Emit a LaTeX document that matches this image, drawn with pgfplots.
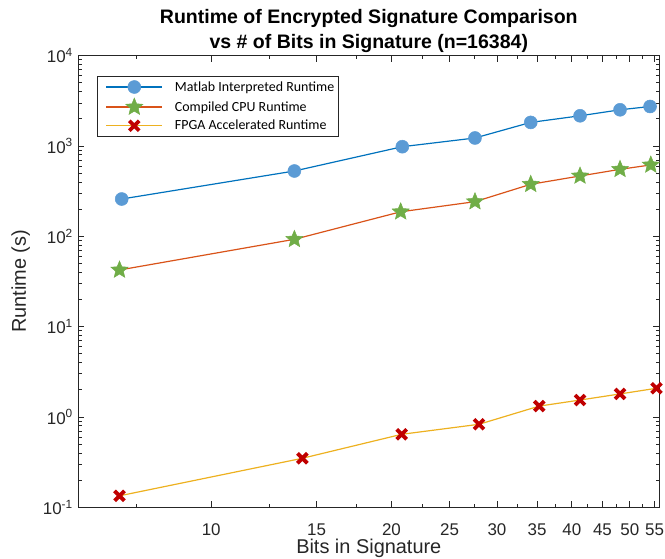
\documentclass[border=0pt]{standalone}
\usepackage{pgfplots}
\pgfplotsset{compat=1.18}
\usepackage{fontspec}
\setmainfont{Liberation Sans}
\newfontfamily\legfont{Carlito}
\definecolor{mblue}{rgb}{0,0.447,0.741}
\definecolor{mfill}{RGB}{91,155,213}
\definecolor{morange}{rgb}{0.85,0.325,0.098}
\definecolor{mgreen}{RGB}{112,173,71}
\definecolor{myellow}{rgb}{0.929,0.694,0.125}
\definecolor{mred}{RGB}{192,0,0}
\definecolor{axgray}{rgb}{0.15,0.15,0.15}
\pgfdeclareplotmark{fstar}{%
 \pgfpathmoveto{\pgfpointpolar{90}{\pgfplotmarksize}}%
 \pgfpathlineto{\pgfpointpolar{126}{0.45\pgfplotmarksize}}%
 \pgfpathlineto{\pgfpointpolar{162}{\pgfplotmarksize}}%
 \pgfpathlineto{\pgfpointpolar{198}{0.45\pgfplotmarksize}}%
 \pgfpathlineto{\pgfpointpolar{234}{\pgfplotmarksize}}%
 \pgfpathlineto{\pgfpointpolar{270}{0.45\pgfplotmarksize}}%
 \pgfpathlineto{\pgfpointpolar{306}{\pgfplotmarksize}}%
 \pgfpathlineto{\pgfpointpolar{342}{0.45\pgfplotmarksize}}%
 \pgfpathlineto{\pgfpointpolar{18}{\pgfplotmarksize}}%
 \pgfpathlineto{\pgfpointpolar{54}{0.45\pgfplotmarksize}}%
 \pgfpathclose
 \pgfusepathqfillstroke}
\begin{document}
\begin{tikzpicture}
\begin{axis}[
 at={(0,0)}, anchor=south west,
 scale only axis, width=581bp, height=451.6bp,
 xmode=log, ymode=log,
 xmin=6, xmax=56, ymin=0.1, ymax=10000,
 xtick={10,15,20,25,30,35,40,45,50,55},
 xticklabels={10,15,20,25,30,35,40,45,50,55},
 minor xtick={7.5,12.5,17.5,22.5,27.5,32.5,37.5,42.5,47.5,52.5},
 ytick={0.1,1,10,100,1000,10000},
 yticklabels={10\textsuperscript{-1},10\textsuperscript{0},10\textsuperscript{1},10\textsuperscript{2},10\textsuperscript{3},10\textsuperscript{4}},
 minor ytick={0.2,0.3,0.4,0.5,0.6,0.7,0.8,0.9,2,3,4,5,6,7,8,9,20,30,40,50,60,70,80,90,200,300,400,500,600,700,800,900,2000,3000,4000,5000,6000,7000,8000,9000},
 tick align=inside,
 major tick length=6bp, minor tick length=3.5bp,
 axis line style={axgray, line width=1bp},
 every tick/.style={axgray, line width=0.8bp},
 tick label style={font=\fontsize{17}{17}\selectfont, text=axgray},
 xticklabel style={yshift=-13bp},
 yticklabel style={xshift=-2bp},
 title={Runtime of Encrypted Signature Comparison\\vs \# of Bits in Signature (n=16384)},
 title style={font=\bfseries\fontsize{19.6}{25}\selectfont, align=center, text=black, yshift=-6bp},
 xlabel={Bits in Signature}, ylabel={Runtime (s)},
 label style={font=\fontsize{20}{20}\selectfont, text=axgray},
 xlabel style={at={(axis description cs:0.5,0)}, anchor=base, yshift=-46.5bp},
 ylabel shift=6bp,
 legend style={at={(axis description cs:0.0327,0.955)}, anchor=north west, draw=axgray, line width=0.8bp, font=\legfont\fontsize{14}{16}\selectfont, cells={anchor=west}, row sep=3.5bp, inner xsep=2bp, inner ysep=3bp},
 legend image code/.code={\path (-6bp,0bp) (66bp,0bp); \draw[mark repeat=2,mark phase=2,#1] plot coordinates {(0bp,0bp) (28bp,0bp) (56bp,0bp)};},
]
\addplot[mblue, line width=1.2bp, mark=*, mark size=6.5bp, mark options={fill=mfill, draw=mfill, line width=0.5bp}] coordinates {
(7.09,259) (13.77,529) (20.85,983) (27.57,1227) (34.16,1826) (41.29,2161) (48.15,2518) (54.04,2739)};
\addlegendentry{Matlab Interpreted Runtime}
\addplot[morange, line width=1.2bp, mark=fstar, mark size=9bp, mark options={fill=mgreen, draw=mgreen, line width=0.5bp}] coordinates {
(7.03,42.4) (13.77,92.7) (20.72,187) (27.57,242) (34.16,377) (41.29,466) (48.15,552) (54.2,617)};
\addlegendentry{Compiled CPU Runtime}
\addplot[myellow, line width=1.2bp, mark=x, mark size=7bp, mark options={draw=mred, line width=3.8bp}] coordinates {
(7.03,0.134) (14.2,0.349) (20.8,0.643) (28.0,0.83) (35.3,1.32) (41.29,1.54) (48.15,1.80) (55.4,2.08)};
\addlegendentry{FPGA Accelerated Runtime}
\end{axis}
\pgfresetboundingbox
\path (-78.3bp,-51.7bp) rectangle (586.7bp,507.3bp);
\end{tikzpicture}
\end{document}
